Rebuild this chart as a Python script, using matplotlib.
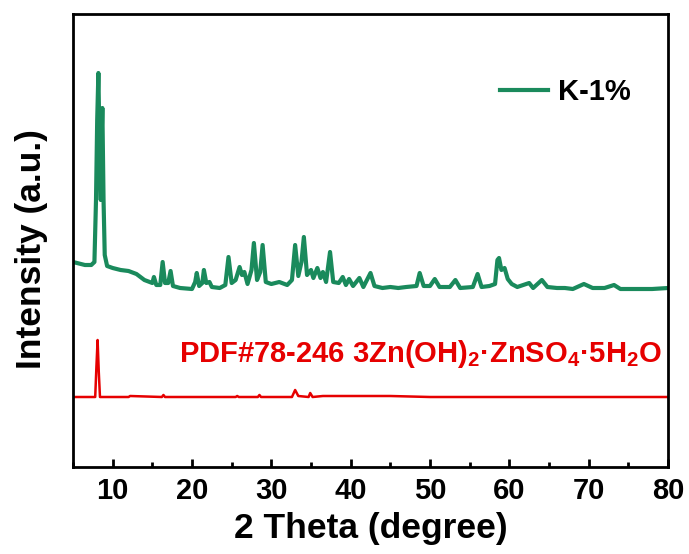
import matplotlib
matplotlib.use("Agg")
import matplotlib.pyplot as plt
from matplotlib.ticker import MultipleLocator

plt.rcParams['font.family'] = ['Liberation Sans', 'DejaVu Sans']
plt.rcParams['font.weight'] = 'bold'
plt.rcParams['mathtext.fontset'] = 'custom'
plt.rcParams['mathtext.rm'] = 'Liberation Sans:bold'
plt.rcParams['mathtext.bf'] = 'Liberation Sans:bold'
plt.rcParams['mathtext.default'] = 'bf'

# K-1% sample pattern (2theta, intensity, offset stacked)
k1_theta = [5.0, 5.5, 6.5, 7.3, 7.7, 7.9, 8.05, 8.2, 8.35, 8.5, 8.6, 8.7, 8.85, 9.0, 9.3,
            10, 11, 12, 13, 14, 15, 15.2, 15.5, 16.0, 16.3, 16.6, 17.0, 17.3, 17.6, 18.5,
            20.0, 20.4, 20.6, 20.9, 21.3, 21.5, 21.8, 22.2, 22.5, 23.5, 24.2, 24.6, 25.0,
            25.5, 26.0, 26.3, 26.6, 27.0, 27.5, 27.8, 28.2, 28.6, 28.9, 29.3, 30, 31, 32,
            32.6, 33.0, 33.4, 33.8, 34.1, 34.5, 35.0, 35.3, 35.8, 36.2, 36.5, 36.9, 37.4,
            37.8, 38.5, 39.0, 39.4, 39.8, 40.3, 41.1, 41.6, 42.5, 43.0, 44, 45, 46, 47,
            48.3, 48.7, 49.2, 50.0, 50.6, 51.2, 52.5, 53.2, 53.8, 55.4, 56.0, 56.5, 57.5,
            58.2, 58.5, 58.7, 59.0, 59.4, 59.8, 60.3, 61.0, 62.5, 63.0, 64.1, 64.8, 66,
            67, 68, 69.4, 70.5, 72, 73.2, 74, 76, 78, 80]
k1_int = [205, 204, 202, 202, 205, 267, 347, 394, 317, 267, 327, 359, 267, 212, 201,
          199, 197, 196, 193, 187, 184, 190, 182, 182, 205, 184, 184, 196, 181, 179,
          178, 185, 194, 181, 184, 197, 184, 185, 180, 179, 182, 210, 184,
          187, 200, 192, 195, 183, 197, 224, 187, 195, 222, 185, 183, 185, 182,
          187, 222, 191, 205, 230, 192, 197, 189, 199, 189, 195, 185, 215,
          185, 184, 190, 182, 188, 181, 189, 180, 194, 181, 179, 180, 179, 180,
          181, 194, 181, 181, 188, 180, 180, 187, 179, 180, 193, 180, 181,
          183, 207, 209, 197, 199, 188, 183, 180, 184, 179, 187, 180, 179,
          179, 178, 183, 179, 179, 182, 178, 178, 178, 179]

# Reference card PDF#78-246
ref_theta = [5.0, 7.8, 7.95, 8.1, 8.25, 8.4, 12.0, 12.2, 16.2, 16.4, 16.6, 20.0, 25.5,
             25.7, 25.9, 28.3, 28.5, 28.7, 32.6, 33.0, 33.4, 34.7, 34.9, 35.2, 36.5,
             40.0, 45.0, 50.0, 55.0, 80.0]
ref_int = [70, 70, 100, 127, 95, 70, 70, 71, 70, 72, 70, 70, 70,
           71, 70, 70, 72, 70, 70, 77, 71, 70, 74, 70, 71,
           71, 71, 70, 70, 70]

green = '#1a8a5c'
red = '#e60000'

fig = plt.figure(figsize=(6.89, 5.54), dpi=100)
ax = fig.add_axes([73 / 689, 87 / 554, 595 / 689, 453 / 554])

ax.plot(k1_theta, k1_int, color=green, lw=3.0, label='K-1%', solid_joinstyle='round')
ax.plot(ref_theta, ref_int, color=red, lw=1.8)

ax.set_xlim(5, 80)
ax.set_ylim(0, 453)
ax.set_yticks([])
ax.xaxis.set_major_locator(MultipleLocator(10))
ax.xaxis.set_minor_locator(MultipleLocator(5))
ax.tick_params(axis='x', which='major', direction='in', length=6, width=2, pad=7)
ax.tick_params(axis='x', which='minor', direction='in', length=3.5, width=2)
for lbl in ax.get_xticklabels():
    lbl.set_fontfamily(['Liberation Sans Narrow', 'Liberation Sans'])
    lbl.set_fontsize(21)
    lbl.set_fontweight('bold')
for s in ax.spines.values():
    s.set_linewidth(2)

ax.set_xlabel('2 Theta (degree)', fontsize=25.5, fontweight='bold', labelpad=5)
ax.set_ylabel('Intensity (a.u.)', fontsize=25.5, fontweight='bold')
ax.yaxis.set_label_coords(-0.042, 0.481)

ax.text(79.3, 105, r'PDF#78-246 3Zn(OH)$_2$·ZnSO$_4$·5H$_2$O', color=red,
        fontsize=21, fontweight='bold', ha='right', va='baseline')

leg = ax.legend(loc='center left', bbox_to_anchor=(0.7176, 0.828), frameon=False,
                prop={'size': 21, 'weight': 'bold'}, handlelength=1.64,
                handletextpad=0.34, borderpad=0, borderaxespad=0)

fig.savefig('out.png', dpi=100)
